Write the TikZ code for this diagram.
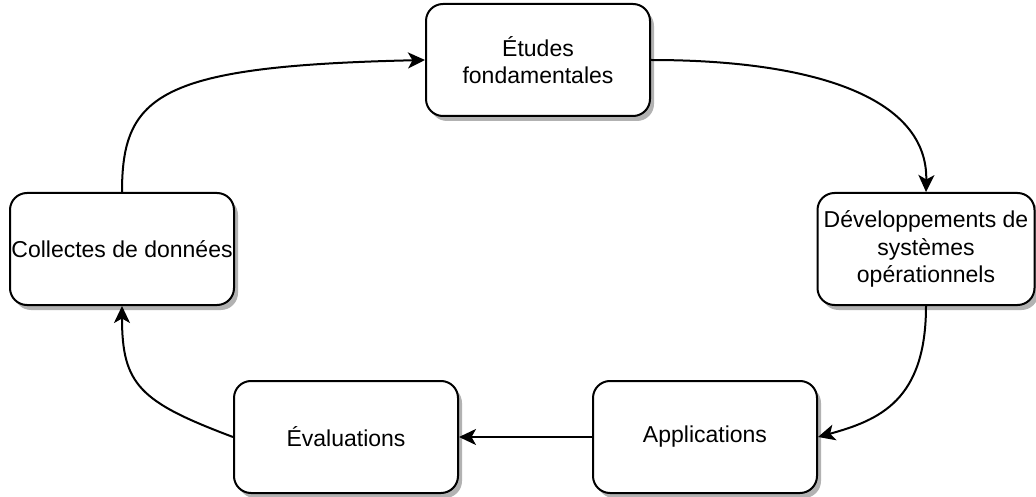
\documentclass[tikz,border=0pt]{standalone}
\usepackage{fontspec}
\setmainfont{Liberation Sans}
\usetikzlibrary{arrows.meta,shadows}
\tikzset{
  box/.style={draw=black, fill=white, line width=2pt, rounded corners=17pt,
    minimum width=224pt, minimum height=112pt, inner sep=0pt, align=center,
    font=\fontsize{23pt}{27.2pt}\selectfont,
    drop shadow={shadow xshift=4pt, shadow yshift=-5pt, fill=black!30, opacity=1}},
  conn/.style={draw=black, line width=2pt, -{Stealth[length=17pt,width=16pt,inset=4.5pt]}}
}
\begin{document}
\begin{tikzpicture}[x=1pt,y=-1pt]
\path[use as bounding box] (0,0) rectangle (1036,497);
\node[box] (etudes) at (538,60) {Études\\fondamentales};
\node[box, minimum width=217pt] (dev) at (926,249) {Développements de\\systèmes\\opérationnels};
\node[box] (app) at (705,437) {Applications};
\node[box] (eval) at (346,437) {Évaluations};
\node[box] (coll) at (122,249) {Collectes de données};

\draw[conn] (coll.north) .. controls +(0,-98) and (160,66) .. (etudes.west);
\draw[conn] (etudes.east) .. controls (820,60) and (928,100) .. (dev.north);
\draw[conn] (dev.south) .. controls (926,400) and (880,420) .. (app.east);
\draw[conn] (app.west) -- (eval.east);
\draw[conn] (eval.west) .. controls (140,402) and (122,385) .. (coll.south);
\end{tikzpicture}
\end{document}
